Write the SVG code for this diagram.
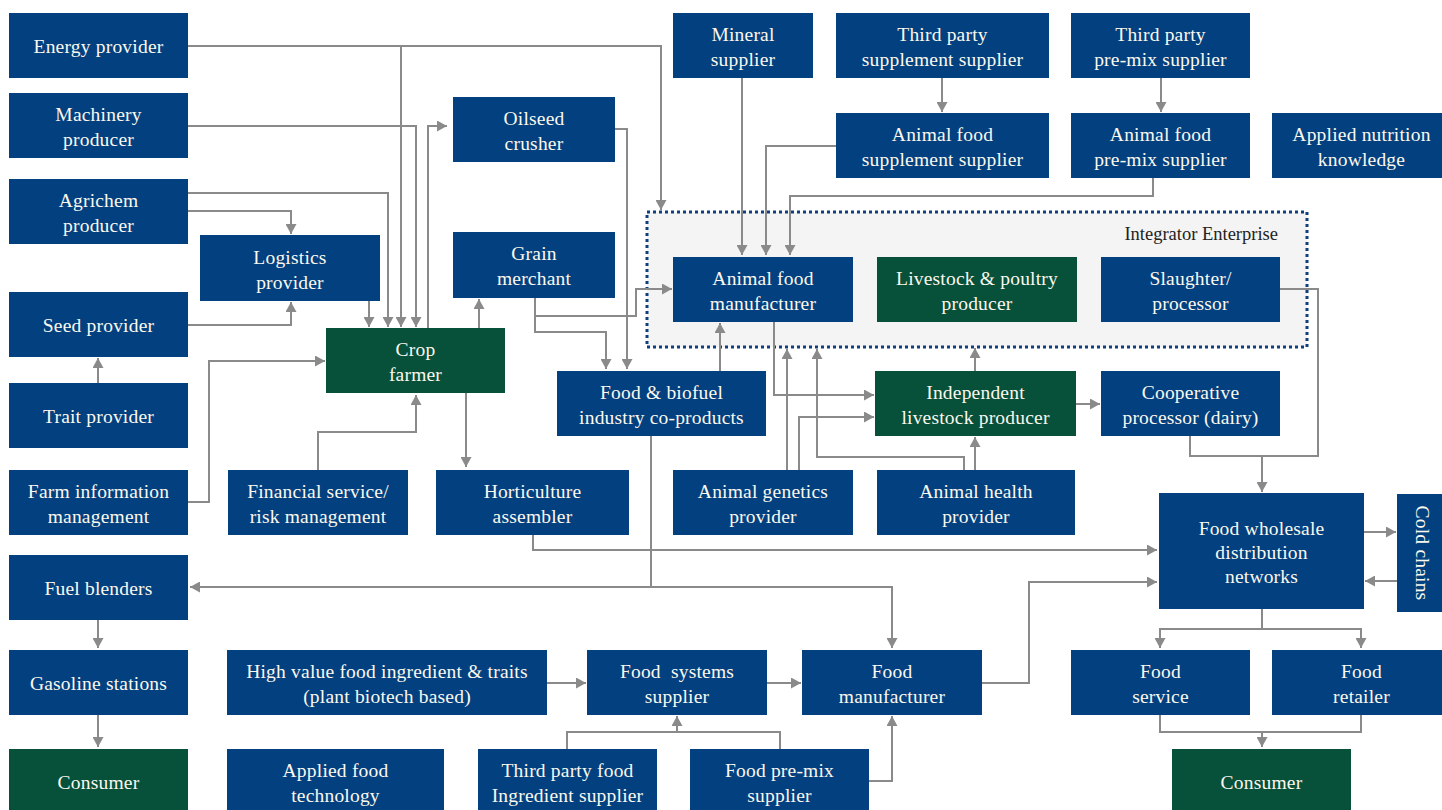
<svg xmlns="http://www.w3.org/2000/svg" width="1442" height="810" viewBox="0 0 1442 810">
<style>
.b{fill:#03407f}
.g{fill:#07503a}
.t{font-family:"Liberation Serif","DejaVu Serif",serif;font-size:19.5px;letter-spacing:0.2px;fill:#fbf8ee;text-anchor:middle}
.c{fill:none;stroke:#8a8a8a;stroke-width:2}
.a{marker-end:url(#ah)}
</style>
<defs>
<marker id="ah" viewBox="0 0 10 11" refX="10" refY="5.5" markerWidth="10" markerHeight="11" markerUnits="userSpaceOnUse" orient="auto">
<path d="M0,0 L10,5.5 L0,11 z" fill="#8a8a8a"/>
</marker>
</defs>
<rect width="1442" height="810" fill="#ffffff"/>
<g id="integrator">
<rect x="647" y="212" width="660" height="135" fill="#f5f4f4" stroke="#0f3f7f" stroke-width="3" stroke-dasharray="3 3"/>
<text x="1278" y="240" font-family="Liberation Serif, DejaVu Serif, serif" font-size="18.5" fill="#222" text-anchor="end">Integrator Enterprise</text>
</g>
<g id="connectors">
<path class="c a" d="M188,46 H661 V210"/>
<path class="c a" d="M401,46 V327"/>
<path class="c a" d="M188,126 H416 V327"/>
<path class="c a" d="M428,328 V126 H447"/>
<path class="c a" d="M188,193 H388 V327"/>
<path class="c a" d="M188,211 H291 V234"/>
<path class="c a" d="M369,301 V327"/>
<path class="c a" d="M188,325 H291 V302"/>
<path class="c a" d="M98,383 V358"/>
<path class="c a" d="M188,502 H209 V361 H325"/>
<path class="c a" d="M318,470 V432 H416 V395"/>
<path class="c a" d="M466,393 V467"/>
<path class="c a" d="M479,328 V299"/>
<path class="c a" d="M615,129 H627 V369"/>
<path class="c a" d="M535,298 V332 H606 V369"/>
<path class="c a" d="M535,316 H636 V289 H672"/>
<path class="c a" d="M720,371 V323"/>
<path class="c a" d="M742,78 V255"/>
<path class="c a" d="M836,146 H766 V255"/>
<path class="c a" d="M1153,178 V196 H790 V255"/>
<path class="c a" d="M942,78 V112"/>
<path class="c a" d="M1161,78 V112"/>
<path class="c a" d="M774,322 V395 H874"/>
<path class="c a" d="M787,470 V349"/>
<path class="c a" d="M799,470 V417 H874"/>
<path class="c a" d="M964,470 V457 H817 V349"/>
<path class="c a" d="M975,470 V437"/>
<path class="c a" d="M975,371 V348"/>
<path class="c a" d="M1076,404 H1100"/>
<path class="c a" d="M1280,289 H1318 V456 H1262 V492"/>
<path class="c" d="M1190,436 V456 H1262"/>
<path class="c a" d="M533,535 V550 H1157"/>
<path class="c" d="M651,436 V587"/>
<path class="c a" d="M651,587 H190"/>
<path class="c a" d="M651,587 H892 V648"/>
<path class="c a" d="M982,683 H1029 V582 H1157"/>
<path class="c a" d="M1364,532 H1396"/>
<path class="c a" d="M1397,581 H1365"/>
<path class="c a" d="M1262,609 V629 H1160 V648"/>
<path class="c a" d="M1262,629 H1361 V648"/>
<path class="c" d="M1160,715 V732 H1361 V715"/>
<path class="c a" d="M1262,732 V747"/>
<path class="c a" d="M98,620 V648"/>
<path class="c a" d="M98,715 V747"/>
<path class="c a" d="M547,683 H586"/>
<path class="c a" d="M767,683 H801"/>
<path class="c" d="M567,749 V732 H780 V749"/>
<path class="c a" d="M677,732 V716"/>
<path class="c a" d="M869,781 H892 V716"/>
</g>
<g id="energy-provider"><rect class="b" x="9" y="13" width="179" height="65"/><text class="t" x="98.5" y="53">Energy provider</text></g>
<g id="machinery-producer"><rect class="b" x="9" y="93" width="179" height="65"/><text class="t" x="98.5" y="121">Machinery</text><text class="t" x="98.5" y="146">producer</text></g>
<g id="agrichem-producer"><rect class="b" x="9" y="179" width="179" height="65"/><text class="t" x="98.5" y="207">Agrichem</text><text class="t" x="98.5" y="232">producer</text></g>
<g id="logistics-provider"><rect class="b" x="200" y="235" width="180" height="66"/><text class="t" x="290" y="263.5">Logistics</text><text class="t" x="290" y="288.5">provider</text></g>
<g id="seed-provider"><rect class="b" x="9" y="292" width="179" height="65"/><text class="t" x="98.5" y="332">Seed provider</text></g>
<g id="trait-provider"><rect class="b" x="9" y="383" width="179" height="65"/><text class="t" x="98.5" y="423">Trait provider</text></g>
<g id="farm-information-management"><rect class="b" x="9" y="470" width="179" height="65"/><text class="t" x="98.5" y="498">Farm information</text><text class="t" x="98.5" y="523">management</text></g>
<g id="crop-farmer"><rect class="g" x="326" y="328" width="179" height="65"/><text class="t" x="415.5" y="356">Crop</text><text class="t" x="415.5" y="381">farmer</text></g>
<g id="financial-service"><rect class="b" x="228" y="470" width="180" height="65"/><text class="t" x="318" y="498">Financial service/</text><text class="t" x="318" y="523">risk management</text></g>
<g id="oilseed-crusher"><rect class="b" x="453" y="97" width="162" height="65"/><text class="t" x="534" y="125">Oilseed</text><text class="t" x="534" y="150">crusher</text></g>
<g id="grain-merchant"><rect class="b" x="453" y="232" width="162" height="66"/><text class="t" x="534" y="260">Grain</text><text class="t" x="534" y="285">merchant</text></g>
<g id="mineral-supplier"><rect class="b" x="673" y="13" width="140" height="65"/><text class="t" x="743" y="41">Mineral</text><text class="t" x="743" y="66">supplier</text></g>
<g id="third-party-supplement-supplier"><rect class="b" x="836" y="13" width="213" height="65"/><text class="t" x="942.5" y="41">Third party</text><text class="t" x="942.5" y="66">supplement supplier</text></g>
<g id="third-party-premix-supplier"><rect class="b" x="1071" y="13" width="179" height="65"/><text class="t" x="1160.5" y="41">Third party</text><text class="t" x="1160.5" y="66">pre-mix supplier</text></g>
<g id="animal-food-supplement-supplier"><rect class="b" x="836" y="113" width="213" height="65"/><text class="t" x="942.5" y="141">Animal food</text><text class="t" x="942.5" y="166">supplement supplier</text></g>
<g id="animal-food-premix-supplier"><rect class="b" x="1071" y="113" width="179" height="65"/><text class="t" x="1160.5" y="141">Animal food</text><text class="t" x="1160.5" y="166">pre-mix supplier</text></g>
<g id="applied-nutrition-knowledge"><rect class="b" x="1272" y="113" width="179" height="65"/><text class="t" x="1361.5" y="141">Applied nutrition</text><text class="t" x="1361.5" y="166">knowledge</text></g>
<g id="animal-food-manufacturer"><rect class="b" x="673" y="257" width="180" height="65"/><text class="t" x="763" y="285">Animal food</text><text class="t" x="763" y="310">manufacturer</text></g>
<g id="livestock-poultry-producer"><rect class="g" x="877" y="257" width="200" height="65"/><text class="t" x="977" y="285">Livestock &amp; poultry</text><text class="t" x="977" y="310">producer</text></g>
<g id="slaughter-processor"><rect class="b" x="1101" y="257" width="179" height="65"/><text class="t" x="1190.5" y="285">Slaughter/</text><text class="t" x="1190.5" y="310">processor</text></g>
<g id="food-biofuel-coproducts"><rect class="b" x="557" y="371" width="209" height="65"/><text class="t" x="661.5" y="399">Food &amp; biofuel</text><text class="t" x="661.5" y="424">industry co-products</text></g>
<g id="independent-livestock-producer"><rect class="g" x="875" y="371" width="201" height="65"/><text class="t" x="975.5" y="399">Independent</text><text class="t" x="975.5" y="424">livestock producer</text></g>
<g id="cooperative-processor"><rect class="b" x="1101" y="371" width="179" height="65"/><text class="t" x="1190.5" y="399">Cooperative</text><text class="t" x="1190.5" y="424">processor (dairy)</text></g>
<g id="horticulture-assembler"><rect class="b" x="436" y="470" width="193" height="65"/><text class="t" x="532.5" y="498">Horticulture</text><text class="t" x="532.5" y="523">assembler</text></g>
<g id="animal-genetics-provider"><rect class="b" x="673" y="470" width="180" height="65"/><text class="t" x="763" y="498">Animal genetics</text><text class="t" x="763" y="523">provider</text></g>
<g id="animal-health-provider"><rect class="b" x="877" y="470" width="198" height="65"/><text class="t" x="976" y="498">Animal health</text><text class="t" x="976" y="523">provider</text></g>
<g id="food-wholesale-distribution-networks"><rect class="b" x="1159" y="493" width="205" height="116"/><text class="t" x="1261.5" y="535">Food wholesale</text><text class="t" x="1261.5" y="559">distribution</text><text class="t" x="1261.5" y="583">networks</text></g>
<g id="cold-chains"><rect class="b" x="1397" y="494" width="50" height="118"/><text class="t" transform="translate(1416,553) rotate(90)" x="0" y="0">Cold chains</text></g>
<g id="fuel-blenders"><rect class="b" x="9" y="555" width="179" height="65"/><text class="t" x="98.5" y="595">Fuel blenders</text></g>
<g id="gasoline-stations"><rect class="b" x="9" y="650" width="179" height="65"/><text class="t" x="98.5" y="690">Gasoline stations</text></g>
<g id="high-value-food-ingredient"><rect class="b" x="227" y="650" width="320" height="65"/><text class="t" x="387" y="678">High value food ingredient &amp; traits</text><text class="t" x="387" y="703">(plant biotech based)</text></g>
<g id="food-systems-supplier"><rect class="b" x="587" y="650" width="180" height="65"/><text class="t" x="677" y="678" xml:space="preserve">Food  systems</text><text class="t" x="677" y="703">supplier</text></g>
<g id="food-manufacturer"><rect class="b" x="802" y="650" width="180" height="65"/><text class="t" x="892" y="678">Food</text><text class="t" x="892" y="703">manufacturer</text></g>
<g id="food-service"><rect class="b" x="1071" y="650" width="179" height="65"/><text class="t" x="1160.5" y="678">Food</text><text class="t" x="1160.5" y="703">service</text></g>
<g id="food-retailer"><rect class="b" x="1272" y="650" width="179" height="65"/><text class="t" x="1361.5" y="678">Food</text><text class="t" x="1361.5" y="703">retailer</text></g>
<g id="consumer-left"><rect class="g" x="9" y="749" width="179" height="65"/><text class="t" x="98.5" y="789">Consumer</text></g>
<g id="applied-food-technology"><rect class="b" x="227" y="749" width="217" height="65"/><text class="t" x="335.5" y="777">Applied food</text><text class="t" x="335.5" y="802">technology</text></g>
<g id="third-party-food-ingredient-supplier"><rect class="b" x="478" y="749" width="179" height="65"/><text class="t" x="567.5" y="777">Third party food</text><text class="t" x="567.5" y="802">Ingredient supplier</text></g>
<g id="food-premix-supplier"><rect class="b" x="690" y="749" width="179" height="65"/><text class="t" x="779.5" y="777">Food pre-mix</text><text class="t" x="779.5" y="802">supplier</text></g>
<g id="consumer-right"><rect class="g" x="1172" y="749" width="179" height="65"/><text class="t" x="1261.5" y="789">Consumer</text></g>
</svg>
